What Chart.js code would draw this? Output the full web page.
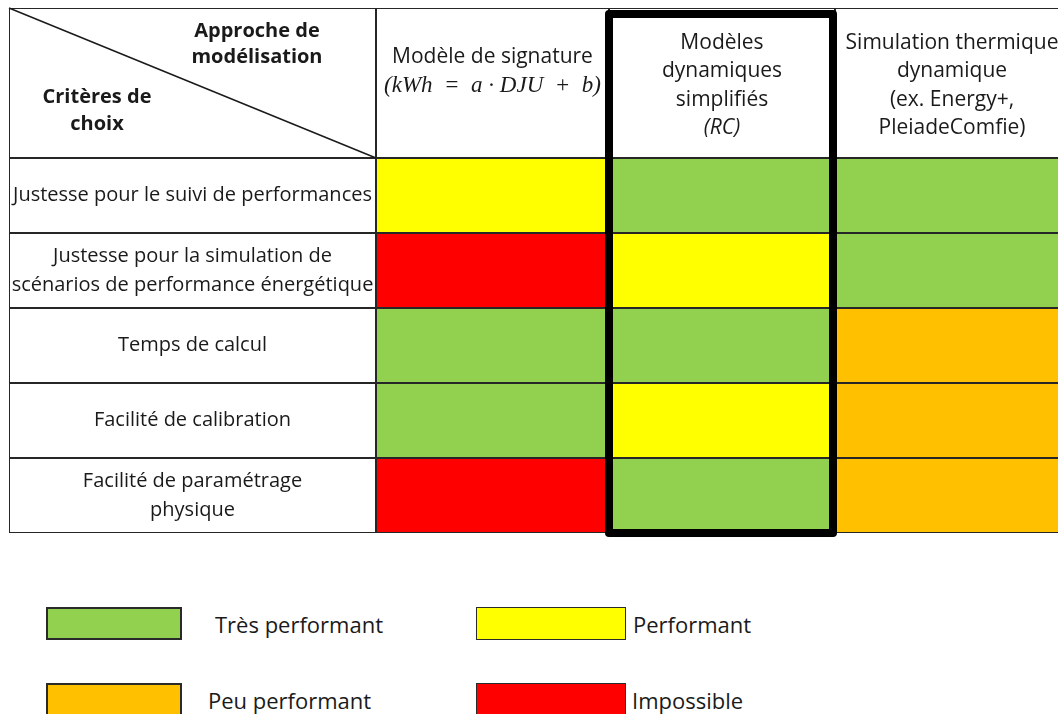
<!DOCTYPE html>
<html>
<head>
<meta charset="utf-8">
<script src="https://cdn.jsdelivr.net/npm/chart.js@4.4.1/dist/chart.umd.min.js"></script>
<style>
  html, body { margin: 0; padding: 0; background: #fff; overflow: hidden; }
  #wrap { position: relative; width: 1058px; height: 714px; }
  #grid { position: absolute; left: 0; top: 0; }
  .swatch { position: absolute; box-sizing: border-box; border: 2px solid #2a2a2a; }
  .label { position: absolute; font-family: "Open Sans", sans-serif; font-size: 22px; color: #1a1a1a; line-height: 26px; white-space: nowrap; }
</style>
</head>
<body>
<div id="wrap">
  <canvas id="grid" width="1058" height="540"></canvas>
  <div id="legend"></div>
</div>
<script>
// rows (criteria) and columns (modelling approaches)
var criteria = [
    ['Justesse pour le suivi de performances'],
    ['Justesse pour la simulation de', 'scénarios de performance énergétique'],
    ['Temps de calcul'],
    ['Facilité de calibration'],
    ['Facilité de paramétrage', 'physique']
];
var approaches = [
    ['Modèle de signature'],
    ['Modèles', 'dynamiques', 'simplifiés'],
    ['Simulation thermique', 'dynamique', '(ex. Energy+,', 'PleiadeComfie)']
];
var approachNotes = ['(kWh  =  a · DJU  +  b)', '(RC)', null];
var cornerTop = ['Approche de', 'modélisation'];
var cornerBottom = ['Critères de', 'choix'];

var levels = ['Très performant', 'Performant', 'Peu performant', 'Impossible'];
var levelColors = ['#92D050', '#FFFF00', '#FFC000', '#FF0000'];

// rating of each approach for each criterion
var signature = ['Performant', 'Impossible', 'Très performant', 'Très performant', 'Impossible'];
var dynamiquesRC = ['Très performant', 'Performant', 'Très performant', 'Performant', 'Très performant'];
var simulationSTD = ['Très performant', 'Très performant', 'Peu performant', 'Peu performant', 'Peu performant'];
var ratings = [signature, dynamiquesRC, simulationSTD];

// layout
var colEdges = [0, 367, 600, 826, 1060];
var highlighted = 1;  // approach framed with the thick border
var font = '"Open Sans", sans-serif';
var ink = '#1a1a1a';

var slots = ['head1', 'head2'].concat(criteria.map(function(c, i) { return 'c' + i; }));

function colorOf(level) {
    return levelColors[levels.indexOf(level)];
}

var datasets = [];
for (var c = 0; c < colEdges.length - 1; c++) {
    var data = [];
    var colors = [];
    for (var s = 0; s < slots.length; s++) {
        data.push([colEdges[c], colEdges[c + 1]]);
        if (s < 2 || c === 0) colors.push('#ffffff');
        else colors.push(colorOf(ratings[c - 1][s - 2]));
    }
    datasets.push({
        data: data,
        backgroundColor: colors,
        borderColor: '#262626',
        borderWidth: function(ctx) {
            if (ctx.dataIndex === 0) return { top: 1, left: 1, right: 1, bottom: 0 };
            if (ctx.dataIndex === 1) return { top: 0, left: 1, right: 1, bottom: 1 };
            return 1;
        },
        borderSkipped: false,
        inflateAmount: 0,
        grouped: false,
        barPercentage: 1,
        categoryPercentage: 1
    });
}

function drawLines(ctx, lines, x, y, step, align) {
    ctx.textAlign = align || 'center';
    lines.forEach(function(line, i) {
        ctx.fillText(line, x, y + i * step);
    });
}

var tableText = {
    id: 'tableText',
    afterDatasetsDraw: function(chart) {
        var ctx = chart.ctx;
        var xs = chart.scales.x;
        var ys = chart.scales.y;
        var area = chart.chartArea;
        var slotH = ys.getPixelForValue(1) - ys.getPixelForValue(0);
        var headTop = area.top;
        var headBottom = ys.getPixelForValue(1) + slotH / 2;

        ctx.save();
        // diagonal of the corner cell
        ctx.strokeStyle = ink;
        ctx.lineWidth = 1.5;
        ctx.beginPath();
        ctx.moveTo(xs.getPixelForValue(colEdges[0]), headTop);
        ctx.lineTo(xs.getPixelForValue(colEdges[1]), headBottom);
        ctx.stroke();

        ctx.fillStyle = ink;
        ctx.textBaseline = 'middle';

        // corner labels
        ctx.font = 'bold 20px ' + font;
        drawLines(ctx, cornerTop, 257, headTop + 23, 26);
        drawLines(ctx, cornerBottom, 97, headTop + 89, 27);

        // column headers
        for (var c = 0; c < approaches.length; c++) {
            var cx = (xs.getPixelForValue(colEdges[c + 1]) + xs.getPixelForValue(colEdges[c + 2])) / 2;
            var startY = c === 0 ? headTop + 49 : headTop + 35;
            var step = c === 0 ? 29 : 28.5;
            ctx.font = '21px ' + font;
            drawLines(ctx, approaches[c], cx, startY, step);
            if (approachNotes[c]) {
                ctx.font = c === 0 ? 'italic 23px "Liberation Serif", serif' : 'italic 21px ' + font;
                ctx.fillText(approachNotes[c], cx, startY + approaches[c].length * step);
            }
        }

        // criteria labels
        ctx.font = '20px ' + font;
        var lx = (xs.getPixelForValue(colEdges[0]) + xs.getPixelForValue(colEdges[1])) / 2;
        criteria.forEach(function(lines, i) {
            var cy = ys.getPixelForValue(i + 2);
            drawLines(ctx, lines, lx, cy - (lines.length - 1) * 14.5, 29);
        });

        // thick frame around the highlighted approach
        var fx0 = xs.getPixelForValue(colEdges[highlighted + 1]);
        var fx1 = xs.getPixelForValue(colEdges[highlighted + 2]) - 2;
        ctx.lineWidth = 8;
        ctx.lineJoin = 'round';
        ctx.strokeStyle = '#000';
        ctx.strokeRect(fx0, headTop + 6, fx1 - fx0, area.bottom - headTop - 6);
        ctx.restore();
    }
};

new Chart(document.getElementById('grid'), {
    type: 'bar',
    data: { labels: slots, datasets: datasets },
    options: {
        indexAxis: 'y',
        responsive: false,
        animation: false,
        layout: { padding: { left: 9, top: 8, right: 0, bottom: 7 } },
        scales: {
            x: { type: 'linear', min: 0, max: 1049, display: false },
            y: { type: 'category', display: false }
        },
        plugins: {
            legend: { display: false },
            tooltip: { enabled: false }
        }
    },
    plugins: [tableText]
});

// legend, 2 x 2
var legendSpots = [
    { box: [46, 607, 136, 33], text: [215, 611] },
    { box: [476, 607, 150, 33], text: [633, 611] },
    { box: [46, 683, 136, 34], text: [208, 687] },
    { box: [476, 683, 150, 34], text: [632, 687] }
];
var legend = document.getElementById('legend');
levels.forEach(function(level, i) {
    var spot = legendSpots[i];
    var box = document.createElement('div');
    box.className = 'swatch';
    box.style.left = spot.box[0] + 'px';
    box.style.top = spot.box[1] + 'px';
    box.style.width = spot.box[2] + 'px';
    box.style.height = spot.box[3] + 'px';
    box.style.background = levelColors[i];
    if (i % 2 === 1) box.style.borderWidth = '1.5px';
    legend.appendChild(box);

    var label = document.createElement('div');
    label.className = 'label';
    label.style.left = spot.text[0] + 'px';
    label.style.top = spot.text[1] + 'px';
    label.textContent = level;
    legend.appendChild(label);
});
</script>
</body>
</html>
